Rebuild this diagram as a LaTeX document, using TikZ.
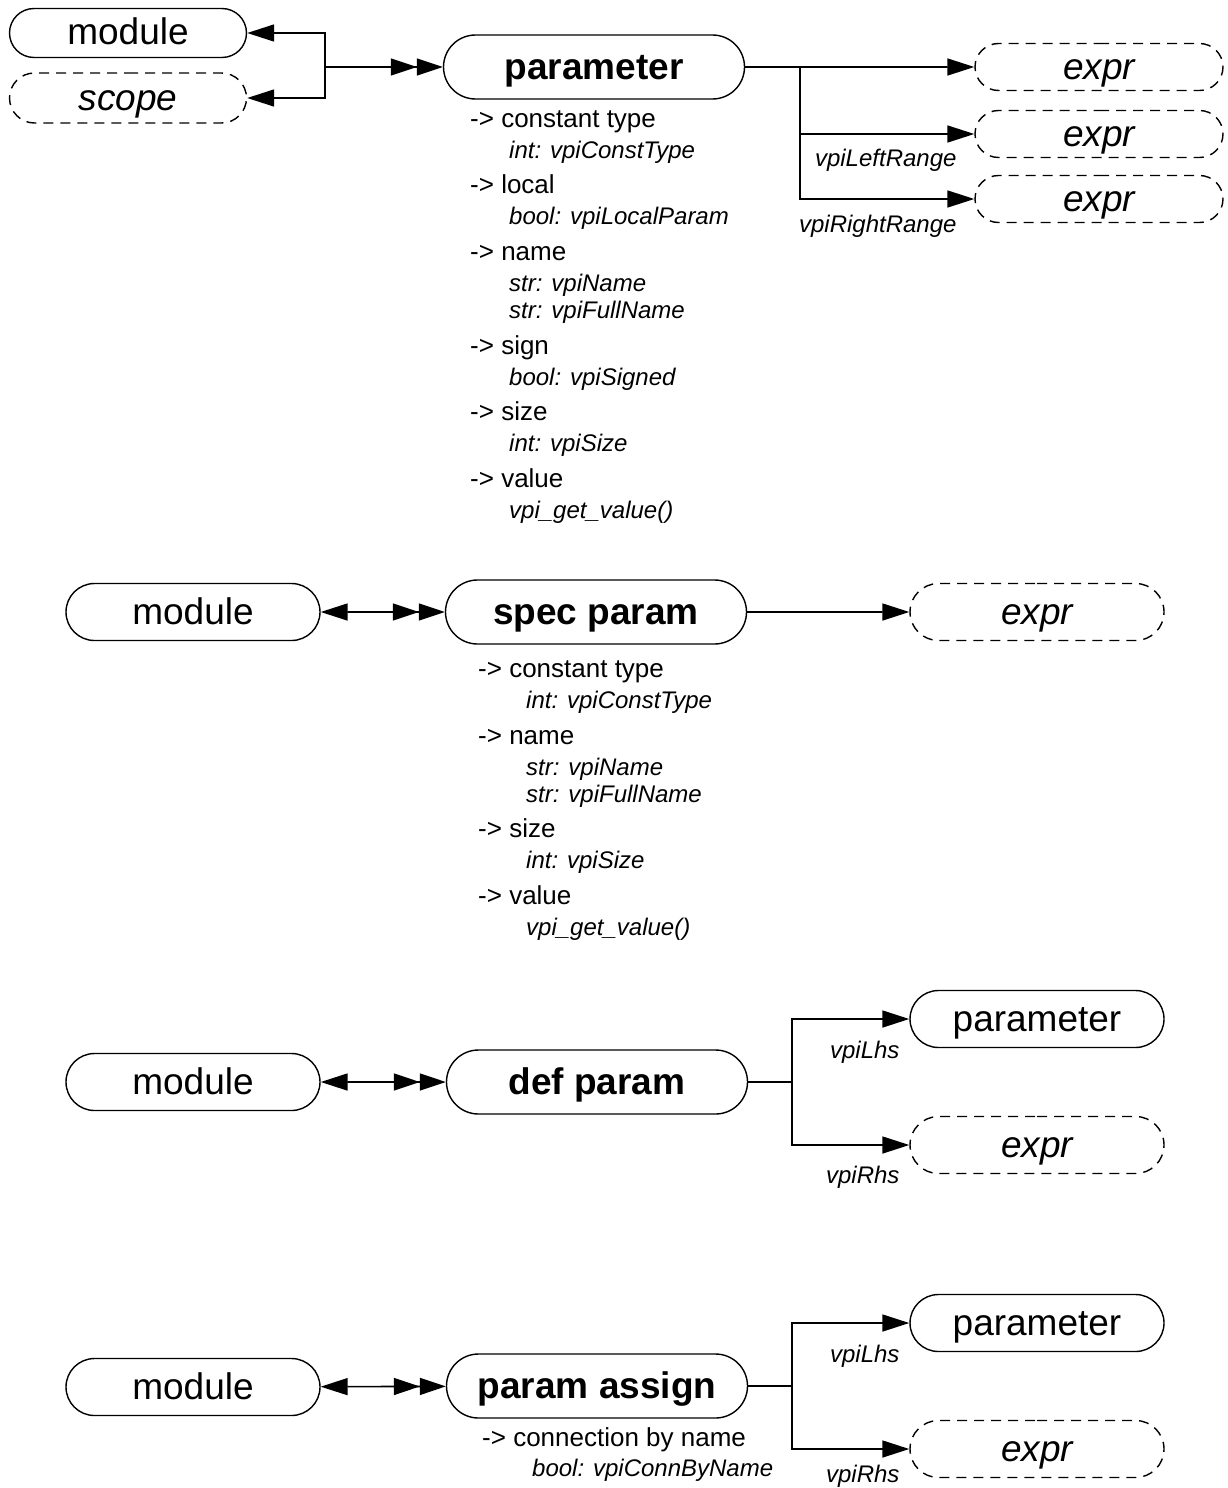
\documentclass[tikz,border=0pt]{standalone}
\usepackage{fontspec}
\setmainfont{Liberation Sans}
\usetikzlibrary{positioning, shapes.misc, arrows.meta}

\newcommand{\bigfont}{\fontsize{37}{44}\selectfont}
\newcommand{\attrfont}{\fontsize{26}{31}\selectfont}
\newcommand{\subfont}{\fontsize{24}{31}\selectfont\itshape}
\newcommand{\vpiattr}[2][48pt]{\hspace*{#1}{\subfont #2}}

\begin{document}
\begin{tikzpicture}[
        x=1pt, y=-1pt,
        obj/.style={rounded rectangle, draw, line width=1.4pt, minimum width=254pt, minimum height=57pt, inner sep=0pt, text height=24pt, text depth=0pt, font=\bigfont},
        ghost/.style={obj, dash pattern=on 10pt off 7pt, font=\bigfont\itshape},
        hub/.style={obj, minimum width=301pt, minimum height=64pt, font=\bigfont\bfseries},
        attr/.style={align=left, anchor=north west, inner sep=0pt, font=\attrfont},
        lbl/.style={font=\subfont, inner sep=0pt, anchor=north east},
        link/.style={line width=1.6pt, -{Triangle[length=27pt,width=17pt]}},
        multi/.style={line width=1.6pt, -{Triangle[length=26pt,width=17pt,sep=0pt]Triangle[length=26pt,width=17pt]}},
        both/.style={line width=1.6pt, {Triangle[length=27pt,width=17pt]}-{Triangle[length=26pt,width=17pt,sep=0pt]Triangle[length=26pt,width=17pt]}},
        wire/.style={line width=1.6pt}
    ]
        \useasboundingbox (0,0) rectangle (1228,1488);

        % parameter
        \node [obj, minimum width=237pt, minimum height=49pt] (mod1) at (128,33) {module};
        \node [ghost, minimum width=237pt, minimum height=50pt] (scope1) at (128,98) {scope};
        \node [hub] (param1) at (594,67) {parameter};
        \node [ghost, minimum width=248pt, minimum height=47pt] (expr1a) at (1099,67) {expr};
        \node [ghost, minimum width=248pt, minimum height=47pt] (expr1b) at (1099,134) {expr};
        \node [ghost, minimum width=248pt, minimum height=47pt] (expr1c) at (1099,199) {expr};
        \node [attr] (attr1) at (470,110) {%
            -> constant type\\
            \vpiattr[39pt]{int: vpiConstType}\\[4.5pt]
            -> local\\
            \vpiattr[39pt]{bool: vpiLocalParam}\\[5pt]
            -> name\\
            \vpiattr[39pt]{str: vpiName}\\[-4pt]
            \vpiattr[39pt]{str: vpiFullName}\\[4.5pt]
            -> sign\\
            \vpiattr[39pt]{bool: vpiSigned}\\[4.5pt]
            -> size\\
            \vpiattr[39pt]{int: vpiSize}\\[5pt]
            -> value\\
            \vpiattr[39pt]{vpi\_get\_value()}};

        \coordinate (j1) at (325,67);
        \coordinate (b1) at (800,67);
        \draw [link] (j1) |- (mod1);
        \draw [link] (j1) |- (scope1);
        \draw [multi] (j1) -- (param1);
        \draw [link] (param1) -- (expr1a);
        \draw [link] (b1) |- node[lbl, pos=1, xshift=-17pt, yshift=-14pt] {vpiLeftRange} (expr1b);
        \draw [link] (b1) |- node[lbl, pos=1, xshift=-17pt, yshift=-15pt] {vpiRightRange} (expr1c);

        % spec param
        \node [obj] (mod2) at (193,612) {module};
        \node [hub] (spec) at (596,612) {spec param};
        \node [ghost] (expr2) at (1037,612) {expr};
        \node [attr] (attr2) at (478,660) {%
            -> constant type\\
            \vpiattr{int: vpiConstType}\\[5pt]
            -> name\\
            \vpiattr{str: vpiName}\\[-4pt]
            \vpiattr{str: vpiFullName}\\[4.5pt]
            -> size\\
            \vpiattr{int: vpiSize}\\[5pt]
            -> value\\
            \vpiattr{vpi\_get\_value()}};

        \draw [both] (mod2) -- (spec);
        \draw [link] (spec) -- (expr2);

        % def param
        \node [obj] (mod3) at (193,1082) {module};
        \node [hub] (defp) at (597,1082) {def param};
        \node [obj] (par3) at (1037,1019) {parameter};
        \node [ghost] (expr3) at (1037,1145) {expr};

        \coordinate (b3) at (792,1082);
        \draw [both] (mod3) -- (defp);
        \draw [wire] (defp) -- (b3);
        \draw [link] (b3) |- node[lbl, pos=1, xshift=-9pt, yshift=-21pt] {vpiLhs} (par3);
        \draw [link] (b3) |- node[lbl, pos=1, xshift=-9pt, yshift=-20pt] {vpiRhs} (expr3);

        % param assign
        \node [obj] (mod4) at (193,1387) {module};
        \node [hub] (pasg) at (597,1386) {param assign};
        \node [obj] (par4) at (1037,1323) {parameter};
        \node [ghost] (expr4) at (1037,1449) {expr};
        \node [attr] (attr4) at (482,1427) {%
            -> connection by name\\[-1pt]
            \vpiattr[50pt]{bool: vpiConnByName}};

        \coordinate (b4) at (792,1386);
        \draw [both] (mod4) -- (pasg);
        \draw [wire] (pasg) -- (b4);
        \draw [link] (b4) |- node[lbl, pos=1, xshift=-9pt, yshift=-21pt] {vpiLhs} (par4);
        \draw [link] (b4) |- node[lbl, pos=1, xshift=-9pt, yshift=-15pt] {vpiRhs} (expr4);

    \end{tikzpicture}
\end{document}
